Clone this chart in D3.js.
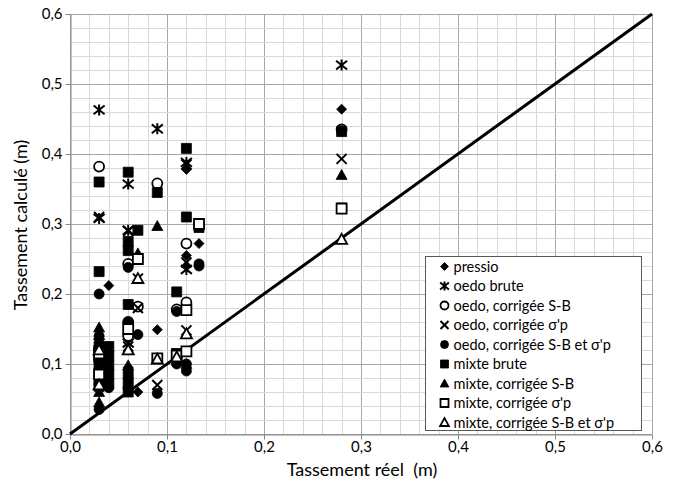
<!DOCTYPE html>
<html>
<head>
<meta charset="utf-8">
<script src="https://cdn.jsdelivr.net/npm/d3@7"></script>
<style>
  body { margin: 0; background: #fff; }
  text { font-family: Lato, "Open Sans", sans-serif; fill: #000; white-space: pre; }
</style>
</head>
<body>
<svg id="chart" width="676" height="484"></svg>
<script>
// Axis ticks (m)
const axisTicks = [0, 0.1, 0.2, 0.3, 0.4, 0.5, 0.6];

// Each series: [tassement réel, tassement calculé] in metres
const pressio = [[0.28,0.464],[0.12,0.378],[0.133,0.272],[0.12,0.255],[0.04,0.212],[0.09,0.149],
  [0.07,0.06],[0.06,0.095],[0.06,0.08],[0.03,0.14],[0.03,0.1],[0.03,0.07],[0.12,0.24],[0.11,0.1]];
const oedoBrute = [[0.03,0.463],[0.03,0.308],[0.03,0.13],[0.03,0.115],[0.09,0.436],[0.06,0.357],
  [0.06,0.291],[0.06,0.13],[0.12,0.388],[0.12,0.235],[0.28,0.527]];
const oedoSB = [[0.03,0.382],[0.03,0.12],[0.03,0.105],[0.09,0.358],[0.12,0.272],[0.12,0.188],
  [0.06,0.243],[0.06,0.16],[0.06,0.14],[0.07,0.182],[0.11,0.178],[0.28,0.435]];
const oedoSp = [[0.28,0.393],[0.12,0.385],[0.12,0.245],[0.12,0.148],[0.03,0.31],[0.03,0.12],
  [0.06,0.29],[0.06,0.125],[0.07,0.222],[0.07,0.18],[0.09,0.07],[0.11,0.115]];
const oedoSBSp = [[0.28,0.433],[0.03,0.2],[0.03,0.14],[0.03,0.1],[0.03,0.07],[0.03,0.035],
  [0.04,0.066],[0.06,0.238],[0.06,0.16],[0.06,0.065],[0.07,0.142],[0.09,0.058],[0.11,0.175],
  [0.11,0.1],[0.12,0.09],[0.12,0.1],[0.133,0.243],[0.133,0.24]];
const mixteBrute = [[0.28,0.432],[0.28,0.323],[0.12,0.408],[0.12,0.31],[0.03,0.36],[0.03,0.232],
  [0.03,0.125],[0.03,0.112],[0.03,0.1],[0.03,0.088],[0.03,0.076],[0.03,0.068],
  [0.04,0.125],[0.04,0.112],[0.04,0.098],[0.04,0.085],[0.04,0.072],
  [0.06,0.374],[0.06,0.275],[0.06,0.262],[0.06,0.185],[0.06,0.085],[0.06,0.072],[0.06,0.06],
  [0.07,0.291],[0.09,0.345],[0.11,0.203],[0.11,0.115],[0.133,0.295]];
const mixteSB = [[0.28,0.37],[0.09,0.297],[0.07,0.258],[0.03,0.152],[0.03,0.06],[0.03,0.045],
  [0.06,0.098],[0.12,0.1],[0.11,0.105]];
const mixteSp = [[0.28,0.322],[0.133,0.3],[0.07,0.25],[0.06,0.15],[0.03,0.115],[0.03,0.085],
  [0.09,0.108],[0.11,0.112],[0.12,0.177],[0.12,0.118]];
const mixteSBSp = [[0.28,0.278],[0.07,0.222],[0.12,0.143],[0.09,0.107],[0.03,0.12],[0.03,0.07],
  [0.06,0.12],[0.11,0.11]];

const seriesNames = ["pressio", "oedo brute", "oedo, corrigée S-B", "oedo, corrigée σ'p",
  "oedo, corrigée S-B et σ'p", "mixte brute", "mixte, corrigée S-B", "mixte, corrigée σ'p",
  "mixte, corrigée S-B et σ'p"];
const seriesData = [pressio, oedoBrute, oedoSB, oedoSp, oedoSBSp, mixteBrute, mixteSB, mixteSp, mixteSBSp];
const seriesMarkers = ["diamond", "star", "circle", "cross", "circle", "square", "triangle", "square", "triangle"];
const seriesFilled = [true, false, false, false, true, true, true, false, false];

const svg = d3.select("#chart");
const plotLeft = 70, plotRight = 652, plotTop = 14, plotBottom = 434;
const x = d3.scaleLinear().domain([0, 0.6]).range([plotLeft, plotRight]);
const y = d3.scaleLinear().domain([0, 0.6]).range([plotBottom, plotTop]);
const fmt = v => d3.format(".1f")(v).replace(".", ",");
const isMajor = d => Math.abs(d * 10 - Math.round(d * 10)) < 1e-6;

// Grid: minor every 0.02, major every 0.1
const minor = d3.range(0, 0.6001, 0.02);
const grid = svg.append("g");
grid.selectAll(".vx").data(minor).join("line")
  .attr("x1", d => Math.round(x(d)) + 0.5).attr("x2", d => Math.round(x(d)) + 0.5)
  .attr("y1", plotTop).attr("y2", plotBottom)
  .attr("stroke", d => isMajor(d) ? "#a6a6a6" : "#d9d9d9")
  .attr("stroke-width", 1);
grid.selectAll(".hy").data(minor).join("line")
  .attr("y1", d => Math.round(y(d)) + 0.5).attr("y2", d => Math.round(y(d)) + 0.5)
  .attr("x1", plotLeft).attr("x2", plotRight)
  .attr("stroke", d => isMajor(d) ? "#a6a6a6" : "#d9d9d9")
  .attr("stroke-width", 1);

// Axes
const xAxis = svg.append("g").attr("transform", `translate(0,${plotBottom + 0.5})`)
  .call(d3.axisBottom(x).tickValues(axisTicks).tickSize(5).tickSizeOuter(0).tickFormat(fmt));
const yAxis = svg.append("g").attr("transform", `translate(${plotLeft + 0.5},0)`)
  .call(d3.axisLeft(y).tickValues(axisTicks).tickSize(5).tickSizeOuter(0).tickFormat(fmt));
[xAxis, yAxis].forEach(a => {
  a.selectAll("path.domain").attr("stroke", "#868686");
  a.selectAll(".tick line").attr("stroke", "#868686");
  a.selectAll(".tick text").style("font-family", "Lato, sans-serif").style("font-size", "15px").attr("fill", "#000");
});
xAxis.selectAll(".tick text").attr("dy", "0.71em").attr("y", 7);
yAxis.selectAll(".tick text").attr("x", -8);

// Axis titles
svg.append("text").attr("x", 362).attr("y", 476).attr("text-anchor", "middle")
  .style("font-size", "18px").text("Tassement réel  (m)");
svg.append("text").attr("transform", "translate(27,225) rotate(-90)").attr("text-anchor", "middle")
  .style("font-size", "18px").text("Tassement calculé (m)");

// y = x reference line
svg.append("line")
  .attr("x1", x(0)).attr("y1", y(0)).attr("x2", x(0.6)).attr("y2", y(0.6))
  .attr("stroke", "#000").attr("stroke-width", 3);

// Marker path generator, centred on 0,0 with size s
function markerPath(type, s) {
  const h = s / 2;
  switch (type) {
    case "diamond": return `M0,${-h}L${h},0L0,${h}L${-h},0Z`;
    case "square": return `M${-h},${-h}H${h}V${h}H${-h}Z`;
    case "triangle": return `M0,${-h}L${h},${h * 0.8}L${-h},${h * 0.8}Z`;
    case "circle": return `M${h},0A${h},${h} 0 1,1 ${-h},0A${h},${h} 0 1,1 ${h},0Z`;
    case "cross": return `M${-h},${-h}L${h},${h}M${h},${-h}L${-h},${h}`;
    case "star": return `M${-h},${-h * 0.8}L${h},${h * 0.8}M${h},${-h * 0.8}L${-h},${h * 0.8}M0,${-h}V${h}`;
  }
}
function drawMarker(g, type, filled, s) {
  const line = type === "cross" || type === "star";
  g.append("path").attr("d", markerPath(type, s))
    .attr("fill", line ? "none" : (filled ? "#000" : "#fff"))
    .attr("stroke", "#000")
    .attr("stroke-width", line ? 2 : (filled ? 0.8 : 1.8));
}

const sizes = { diamond: 10, square: 10, triangle: 11, circle: 10, cross: 10, star: 11 };
const points = svg.append("g");
seriesData.forEach((data, i) => {
  data.forEach(([xv, yv]) => {
    const g = points.append("g").attr("transform", `translate(${x(xv)},${y(yv)})`);
    drawMarker(g, seriesMarkers[i], seriesFilled[i], sizes[seriesMarkers[i]]);
  });
});

// Legend
const lg = svg.append("g").attr("transform", "translate(425.5,256.5)");
lg.append("rect").attr("width", 216).attr("height", 174).attr("fill", "#fff").attr("stroke", "#595959");
seriesNames.forEach((name, i) => {
  const row = lg.append("g").attr("transform", `translate(0,${10 + i * 19.5})`);
  const m = row.append("g").attr("transform", "translate(19,0)");
  drawMarker(m, seriesMarkers[i], seriesFilled[i], sizes[seriesMarkers[i]] * 0.8);
  row.append("text").attr("x", 28).attr("y", 0).attr("dy", "0.35em")
    .style("font-size", "14.5px").text(name);
});
</script>
</body>
</html>
